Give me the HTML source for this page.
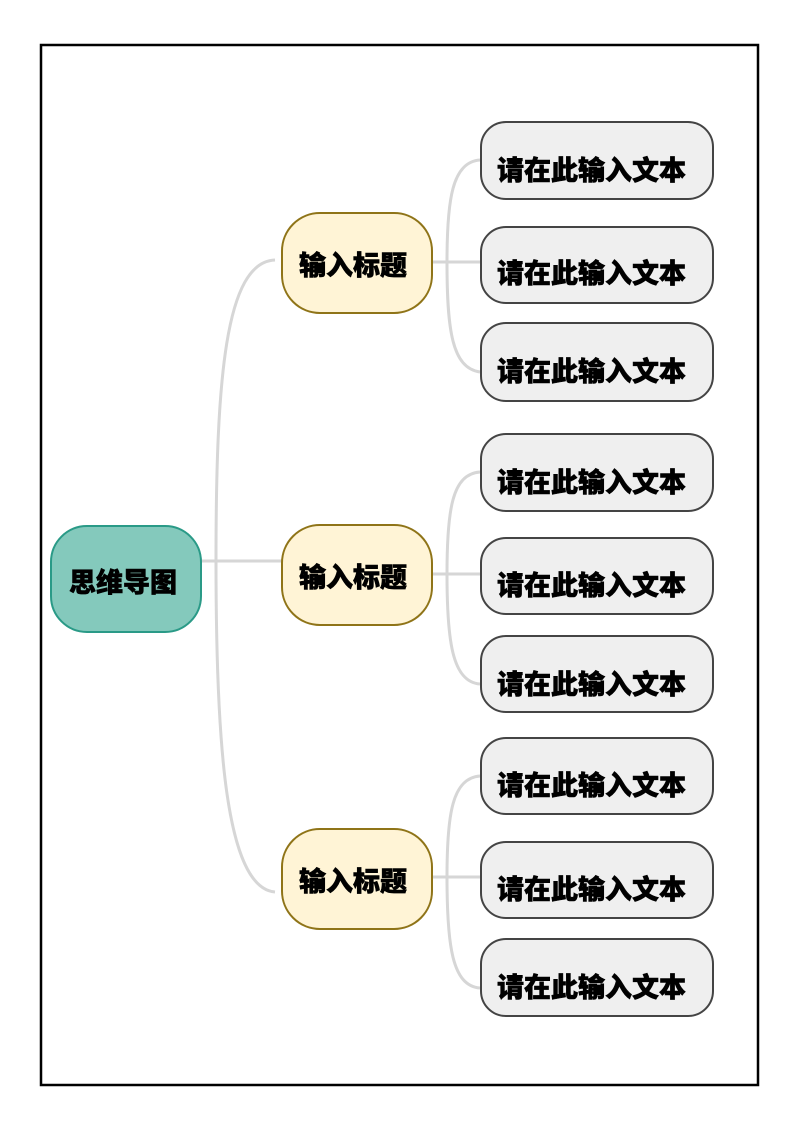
<!DOCTYPE html>
<html><head><meta charset="utf-8"><style>
html,body{margin:0;padding:0;background:#fff;}
svg{display:block;}
text{font-family:"Liberation Sans","Noto Sans CJK SC",sans-serif;font-weight:900;fill:#000;stroke:#000;stroke-width:0.6;}
</style></head><body>
<svg width="800" height="1131" viewBox="0 0 800 1131" xmlns="http://www.w3.org/2000/svg">
<rect x="41" y="45" width="717" height="1040" fill="#fff" stroke="#000" stroke-width="2.5"/>
<g fill="none" stroke="#d6d6d6" stroke-width="3">
<path d="M201,561 H282"/>
<path d="M275,260 C225,262 216,380 216,561 C216,740 225,888 275,892"/>
<path d="M432,262 H481"/>
<path d="M480,160 C452,162 447,200 447,262 C447,330 452,368 480,372"/>
<path d="M432,574 H481"/>
<path d="M480,472 C452,474 447,510 447,574 C447,640 452,682 480,684"/>
<path d="M432,877 H481"/>
<path d="M480,776 C452,778 447,815 447,877 C447,945 452,986 480,988"/>
</g>
<rect x="51" y="526" width="150" height="106" rx="36" fill="#84c9bc" stroke="#2a9a87" stroke-width="2"/>
<text x="123" y="592" font-size="27" text-anchor="middle">思维导图</text>
<g fill="#fff4d6" stroke="#8f7418" stroke-width="2">
<rect x="282" y="213" width="150" height="100" rx="38"/>
<rect x="282" y="525" width="150" height="100" rx="38"/>
<rect x="282" y="829" width="150" height="100" rx="38"/>
</g>
<g font-size="27" text-anchor="middle">
<text x="353" y="275">输入标题</text>
<text x="353" y="587">输入标题</text>
<text x="353" y="891">输入标题</text>
</g>
<g fill="#efefef" stroke="#444" stroke-width="2">
<rect x="481" y="122" width="232" height="77" rx="25"/>
<rect x="481" y="227" width="232" height="76" rx="25"/>
<rect x="481" y="323" width="232" height="78" rx="25"/>
<rect x="481" y="434" width="232" height="77" rx="25"/>
<rect x="481" y="538" width="232" height="76" rx="25"/>
<rect x="481" y="636" width="232" height="76" rx="25"/>
<rect x="481" y="738" width="232" height="76" rx="25"/>
<rect x="481" y="842" width="232" height="76" rx="25"/>
<rect x="481" y="939" width="232" height="77" rx="25"/>
</g>
<g font-size="27">
<text x="497" y="180">请在此输入文本</text>
<text x="497" y="283">请在此输入文本</text>
<text x="497" y="381">请在此输入文本</text>
<text x="497" y="492">请在此输入文本</text>
<text x="497" y="595">请在此输入文本</text>
<text x="497" y="694">请在此输入文本</text>
<text x="497" y="795">请在此输入文本</text>
<text x="497" y="899">请在此输入文本</text>
<text x="497" y="997">请在此输入文本</text>
</g>
</svg>
</body></html>
